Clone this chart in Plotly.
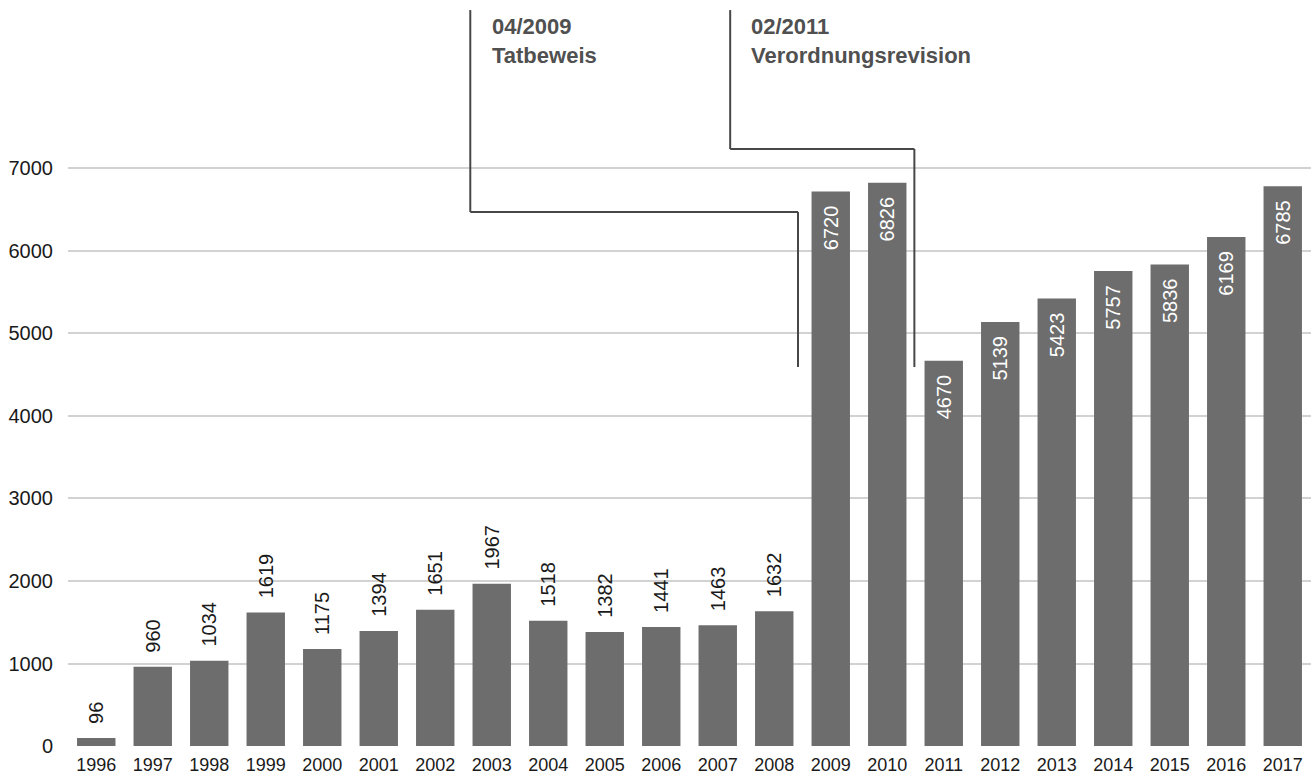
import plotly.graph_objects as go

years = ["1996", "1997", "1998", "1999", "2000", "2001", "2002", "2003", "2004", "2005", "2006",
         "2007", "2008", "2009", "2010", "2011", "2012", "2013", "2014", "2015", "2016", "2017"]
values = [96, 960, 1034, 1619, 1175, 1394, 1651, 1967, 1518, 1382, 1441,
          1463, 1632, 6720, 6826, 4670, 5139, 5423, 5757, 5836, 6169, 6785]
y_ticks = [0, 1000, 2000, 3000, 4000, 5000, 6000, 7000]

event_labels = ["<b>04/2009<br>Tatbeweis</b>", "<b>02/2011<br>Verordnungsrevision</b>"]

FONT = "Liberation Sans, Arial, Helvetica, sans-serif"
BAR = "#6d6d6d"
LINE = "#474747"

inside = [int(y) >= 2009 for y in years]
positions = ["inside" if f else "outside" for f in inside]
templates = ["%{y}\u00a0\u00a0" if f else "\u00a0\u00a0%{y}" for f in inside]
text_colors = ["#ffffff" if f else "#1a1a1a" for f in inside]

fig = go.Figure()
fig.add_trace(go.Bar(
    x=years, y=values,
    marker=dict(color=BAR, line=dict(width=0)),
    width=0.68,
    texttemplate=templates,
    textposition=positions,
    textangle=-90,
    insidetextanchor="end",
    constraintext="none",
    cliponaxis=False,
    textfont=dict(family=FONT, size=20, color=text_colors),
    hoverinfo="x+y",
))

ymax = 9042

# connector lines (x in category index units, y in data units)
paths = [
    [(6.62, 8920), (6.62, 6473), (12.42, 6473), (12.42, 4594)],
    [(11.22, 8920), (11.22, 7236), (14.48, 7236), (14.48, 4594)],
]
for pts in paths:
    for (x0, y0), (x1, y1) in zip(pts[:-1], pts[1:]):
        fig.add_shape(type="line", xref="x", yref="y", x0=x0, y0=y0, x1=x1, y1=y1,
                      line=dict(color=LINE, width=2), layer="above")

fig.add_annotation(x=6.97, y=8900, xref="x", yref="y", text=event_labels[0],
                   showarrow=False, xanchor="left", yanchor="top", align="left",
                   font=dict(family=FONT, size=22, color="#505050"))
fig.add_annotation(x=11.56, y=8900, xref="x", yref="y", text=event_labels[1],
                   showarrow=False, xanchor="left", yanchor="top", align="left",
                   font=dict(family=FONT, size=22, color="#505050"))

fig.update_layout(
    width=1316, height=778,
    margin=dict(l=68, r=5, t=0, b=32),
    paper_bgcolor="white", plot_bgcolor="white",
    showlegend=False,
    xaxis=dict(type="category", range=[-0.5, 21.5], showgrid=False, showline=False,
               ticks="", ticklabelstandoff=6,
               tickfont=dict(family=FONT, size=18, color="#1a1a1a")),
    yaxis=dict(range=[0, ymax], tickvals=y_ticks, ticktext=[str(v) for v in y_ticks],
               showgrid=True, gridcolor="#d2d2d2", gridwidth=1.5, zeroline=False,
               showline=False, ticks="", ticklabelstandoff=14,
               tickfont=dict(family=FONT, size=20, color="#1a1a1a")),
)

fig.write_html("out.html")
